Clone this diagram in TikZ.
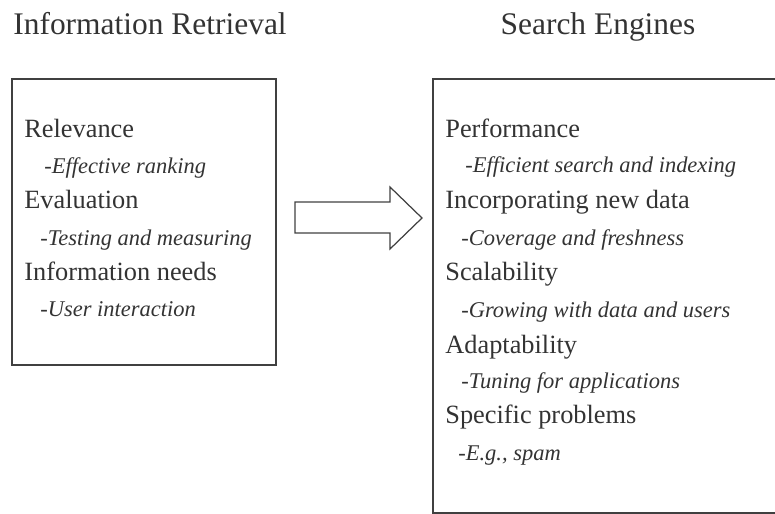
\documentclass[tikz,border=0pt]{standalone}
\usepackage{fontspec}
\setmainfont{Liberation Serif}
\definecolor{ink}{HTML}{333333}

\begin{document}
\begin{tikzpicture}[x=0.02cm,y=-0.02cm,
	title/.style={anchor=base,font=\fontsize{17.9}{20}\selectfont,text=ink},
	item/.style={anchor=base west,inner sep=0pt,font=\fontsize{15}{18}\selectfont,text=ink},
	sub/.style={anchor=base west,inner sep=0pt,font=\fontsize{12.8}{16}\selectfont\itshape,text=ink},
	box/.style={draw=black!75,line width=0.7pt,inner sep=0pt}]
			%	\draw[very thin,densely dashed] (0,0) grid[step=50] (775,514);
			\useasboundingbox (0,0) rectangle (775,514);
			\node[title] (IR) at (150,34){Information Retrieval};
			\node[title] (SE) at (598,34){Search Engines};
			\node[box,minimum width=5.28cm,minimum height=5.72cm] (irbox) at (144,222){};
			\node[box,minimum width=6.96cm,minimum height=8.68cm] (sebox) at (607,296){};
			% block arrow between the boxes
			\draw[black!75,line width=0.7pt,line join=miter]
			(295,202) -- (390,202) -- (390,187) -- (422,218) -- (390,249) -- (390,233) -- (295,233) -- cycle;
			% left box
			\node[item] (rel) at (24,137){Relevance};
			\node[sub] (relsub) at (44,173){-Effective ranking};
			\node[item] (eval) at (24,208){Evaluation};
			\node[sub] (evalsub) at (40,245){-Testing and measuring};
			\node[item] (need) at (24,280){Information needs};
			\node[sub] (needsub) at (40,316){-User interaction};
			% right box
			\node[item] (perf) at (445,137){Performance};
			\node[sub] (perfsub) at (465,172){-Efficient search and indexing};
			\node[item] (new) at (445,208){Incorporating new data};
			\node[sub] (newsub) at (461,245){-Coverage and freshness};
			\node[item] (scal) at (445,280){Scalability};
			\node[sub] (scalsub) at (461,317){-Growing with data and users};
			\node[item] (adapt) at (445,353){Adaptability};
			\node[sub] (adaptsub) at (461,388){-Tuning for applications};
			\node[item] (spec) at (445,423){Specific problems};
			\node[sub] (specsub) at (458,460){-E.g., spam};
		\end{tikzpicture}
\end{document}
